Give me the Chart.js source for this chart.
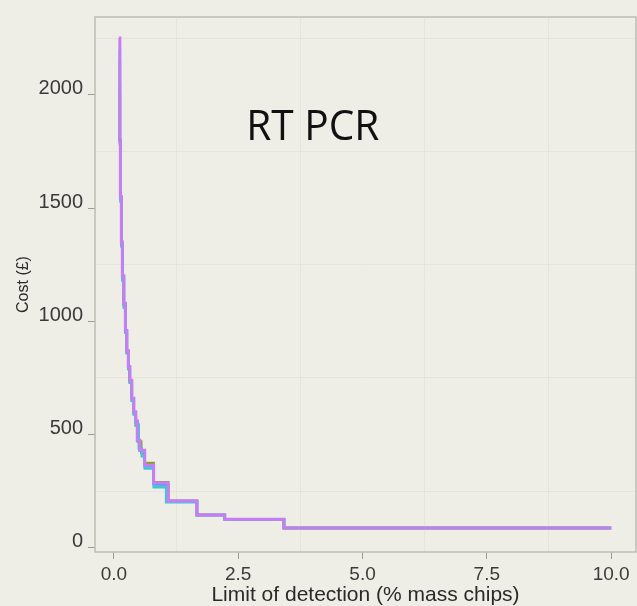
<!DOCTYPE html>
<html>
<head>
<meta charset="utf-8">
<script src="https://cdn.jsdelivr.net/npm/chart.js@4.4.1/dist/chart.umd.min.js"></script>
<style>
    html, body { margin: 0; padding: 0; background: #eeeee6; }
    #wrap { width: 637px; height: 606px; position: relative; }
</style>
</head>
<body>
<div id="wrap"><canvas id="chartMain"></canvas></div>
<script>
// ========== DATA ==========
const xTicks = [0, 2.5, 5, 7.5, 10];
const xTickLabels = ['0.0', '2.5', '5.0', '7.5', '10.0'];
const xGrid = [1.25, 3.75, 6.25, 8.75];
const yTicks = [0, 500, 1000, 1500, 2000];
const yGrid = [250, 750, 1250, 1750, 2250];

// limit of detection (% mass chips) vs cost (£), one step curve per run
const lodPurple  = [0.10, 0.12, 0.13, 0.15, 0.17, 0.20, 0.23, 0.26, 0.29, 0.32, 0.36, 0.40, 0.44, 0.47, 0.52, 0.62, 0.80, 1.09, 1.67, 2.23, 3.42, 10.0];
const costPurple = [2250, 1800, 1550, 1350, 1200, 1080, 960, 870, 800, 740, 660, 600, 560, 475, 431, 365, 286, 207, 145, 127, 88, 88];

const lodCyan  = [0.10, 0.12, 0.13, 0.15, 0.17, 0.20, 0.23, 0.26, 0.29, 0.32, 0.36, 0.40, 0.44, 0.50, 0.56, 0.62, 0.80, 1.05, 1.67, 2.23, 3.42, 10.0];
const costCyan = [2200, 1780, 1530, 1330, 1180, 1060, 950, 860, 790, 730, 650, 590, 545, 440, 405, 350, 268, 202, 145, 127, 88, 88];

const lodOlive  = [0.10, 0.12, 0.13, 0.15, 0.17, 0.20, 0.23, 0.26, 0.29, 0.32, 0.36, 0.40, 0.44, 0.48, 0.55, 0.62, 0.80, 1.09, 1.67, 2.23, 3.42, 10.0];
const costOlive = [2000, 1790, 1540, 1340, 1190, 1070, 950, 860, 790, 730, 650, 590, 540, 470, 420, 375, 290, 207, 145, 127, 88, 88];

const lodBlue  = [0.10, 0.12, 0.13, 0.15, 0.17, 0.20, 0.23, 0.26, 0.29, 0.32, 0.36, 0.40, 0.44, 0.47, 0.52, 0.62, 0.80, 1.09, 1.67, 2.23, 3.42, 10.0];
const costBlue = [2150, 1800, 1550, 1340, 1200, 1075, 960, 865, 800, 735, 660, 600, 555, 475, 431, 360, 280, 207, 145, 127, 88, 88];

const lodOrange  = [0.10, 0.12, 0.13, 0.15, 0.17, 0.20, 0.23, 0.26, 0.29, 0.32, 0.36, 0.40, 0.44, 0.47, 0.52, 0.62, 0.80, 1.09, 1.67, 2.23, 3.42, 10.0];
const costOrange = [2050, 1800, 1550, 1350, 1200, 1080, 955, 870, 800, 740, 660, 600, 560, 475, 431, 365, 286, 207, 145, 127, 88, 88];

const annotationText = 'RT PCR';
const annotationAt = { x: 4.0, y: 1800 };

const toPoints = (xs, ys) => xs.map((x, i) => ({ x: x, y: ys[i] }));

const series = [
    { label: 'run 5', xs: lodPurple, ys: costPurple, color: '#c47ef8', width: 3 },
    { label: 'run 4', xs: lodCyan,   ys: costCyan,   color: '#3cc8d6', width: 2.5 },
    { label: 'run 3', xs: lodOlive,  ys: costOlive,  color: '#8fa02a', width: 2.5 },
    { label: 'run 2', xs: lodBlue,   ys: costBlue,   color: '#4a90e2', width: 2.5 },
    { label: 'run 1', xs: lodOrange, ys: costOrange, color: '#e0883a', width: 2.5 }
];

// ========== PLUGINS ==========
const frameBg = {
    id: 'frameBg',
    beforeDraw(chart) {
        const { ctx } = chart;
        ctx.save();
        ctx.fillStyle = '#eeeee6';
        ctx.fillRect(0, 0, chart.width, chart.height);
        ctx.restore();
    },
    afterDatasetsDraw(chart) {
        const { ctx, chartArea: a } = chart;
        ctx.save();
        ctx.strokeStyle = '#bdbdb4';
        ctx.lineWidth = 1.5;
        ctx.strokeRect(a.left, a.top, a.right - a.left, a.bottom - a.top);
        ctx.restore();
    },
    afterDraw(chart) {
        const { ctx, scales } = chart;
        const px = scales.x.getPixelForValue(annotationAt.x);
        const py = scales.y.getPixelForValue(annotationAt.y);
        ctx.save();
        ctx.font = '42px "Open Sans", "Liberation Sans", sans-serif';
        ctx.fillStyle = '#111';
        ctx.textBaseline = 'alphabetic';
        const w = ctx.measureText(annotationText).width;
        ctx.translate(px, py);
        ctx.scale(133 / w, 1);
        ctx.textAlign = 'center';
        ctx.fillText(annotationText, 0, 0);
        ctx.restore();
    }
};

// ========== CHART ==========
const fontFamily = '"Liberation Sans", Arial, sans-serif';

new Chart(document.getElementById('chartMain').getContext('2d'), {
    type: 'line',
    data: {
        datasets: series.map(s => ({
            label: s.label,
            data: toPoints(s.xs, s.ys),
            borderColor: s.color,
            borderWidth: s.width,
            stepped: true,
            pointRadius: 0,
            fill: false
        }))
    },
    options: {
        responsive: true,
        maintainAspectRatio: false,
        animation: false,
        layout: { padding: { top: 15, right: 1, left: 0, bottom: 0 } },
        plugins: {
            legend: { display: false },
            tooltip: { enabled: false }
        },
        scales: {
            x: {
                type: 'linear',
                min: -0.38,
                max: 10.5,
                afterBuildTicks: scale => {
                    scale.ticks = [...xTicks, ...xGrid].sort((a, b) => a - b).map(v => ({ value: v }));
                },
                afterFit: scale => { scale.height = 54; },
                border: { display: false },
                grid: {
                    color: c => xGrid.includes(c.tick.value) ? 'rgba(0,0,0,0.035)' : 'rgba(0,0,0,0)',
                    tickColor: c => xTicks.includes(c.tick.value) ? '#9a9a94' : 'rgba(0,0,0,0)',
                    tickLength: 7,
                    lineWidth: 1
                },
                ticks: {
                    autoSkip: false,
                    maxRotation: 0,
                    padding: 4,
                    color: '#3a3a3a',
                    font: { family: fontFamily, size: 19 },
                    callback: v => {
                        const i = xTicks.indexOf(v);
                        return i >= 0 ? xTickLabels[i] : '';
                    }
                },
                title: {
                    display: true,
                    text: 'Limit of detection (% mass chips)',
                    color: '#2a2a2a',
                    font: { family: fontFamily, size: 21, lineHeight: 1.0 },
                    padding: { top: 0, bottom: 0 }
                }
            },
            y: {
                type: 'linear',
                min: -18,
                max: 2343,
                afterBuildTicks: scale => {
                    scale.ticks = [...yTicks, ...yGrid].sort((a, b) => a - b).map(v => ({ value: v }));
                },
                afterFit: scale => { scale.width = 95; },
                border: { display: false },
                grid: {
                    color: c => yGrid.includes(c.tick.value) ? 'rgba(0,0,0,0.035)' : 'rgba(0,0,0,0)',
                    tickColor: c => yTicks.includes(c.tick.value) ? '#9a9a94' : 'rgba(0,0,0,0)',
                    tickLength: 7,
                    lineWidth: 1
                },
                ticks: {
                    autoSkip: false,
                    padding: 5,
                    labelOffset: -6,
                    color: '#3a3a3a',
                    font: { family: fontFamily, size: 20 },
                    callback: v => yTicks.includes(v) ? String(v) : ''
                },
                title: {
                    display: true,
                    text: 'Cost (£)',
                    color: '#2a2a2a',
                    font: { family: fontFamily, size: 16 },
                    padding: { top: 14, bottom: 0 }
                }
            }
        }
    },
    plugins: [frameBg]
});
</script>
</body>
</html>
